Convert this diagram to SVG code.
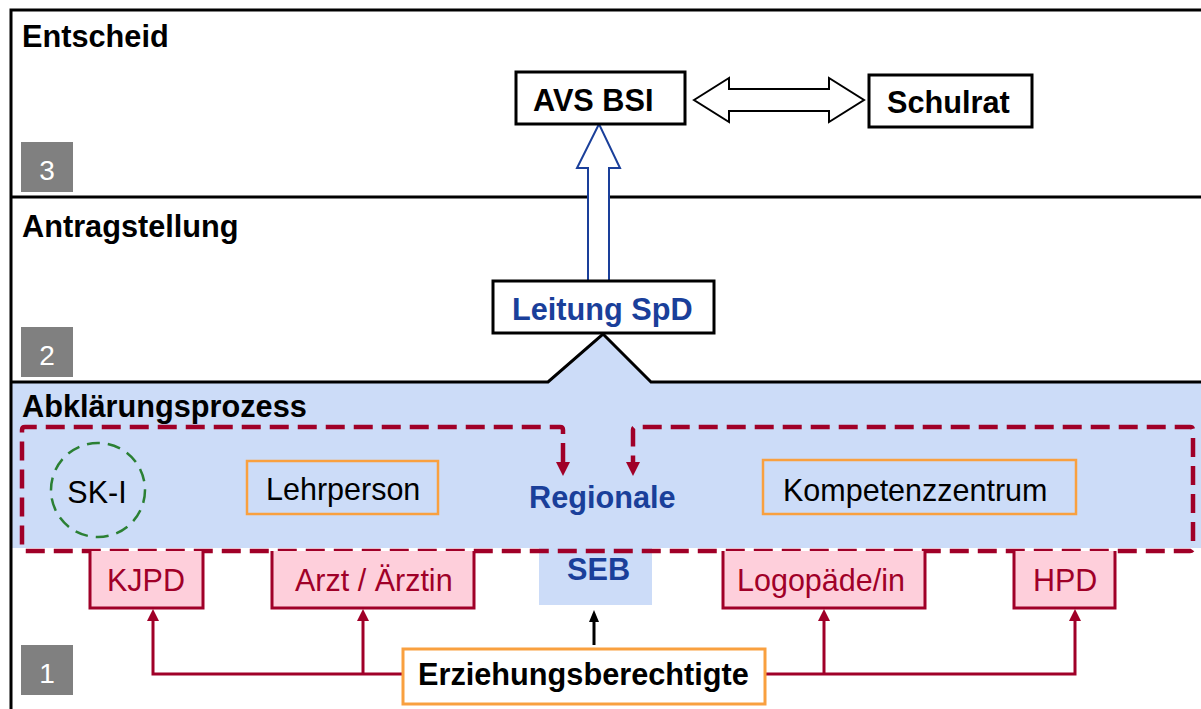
<svg xmlns="http://www.w3.org/2000/svg" width="1201" height="709" viewBox="0 0 1201 709">
<defs>
<style>
text{font-family:"Liberation Sans",Arial,sans-serif;font-size:30.5px}
.b{font-weight:bold;font-size:30.7px}
.blk{fill:#000}
.blue{fill:#1a3f9a}
.red{fill:#a00028}
.badge rect{fill:#808080}
.badge text{fill:#fff;font-size:28px;text-anchor:middle}
.box{fill:#fff;stroke:#000;stroke-width:3}
.obox{fill:#ccdcf8;stroke:#f9a03f;stroke-width:2.5}
.pink{fill:#fecfdb}
.pinkedge{fill:none;stroke:#a00028;stroke-width:3}
.rline{fill:none;stroke:#a00028;stroke-width:3}
.rhead{fill:#a00028}
</style>
</defs>
<rect width="1201" height="709" fill="#fff"/>
<g id="lanes">
<path d="M12,382 L548,382 L603,334 L651,382 L1201,382 L1201,548 L652,548 L652,605 L539,605 L539,548 L12,548 Z" fill="#ccdcf8"/>
<rect x="11" y="10" width="1200" height="710" fill="none" stroke="#000" stroke-width="3"/>
<line x1="11" y1="197" x2="1201" y2="197" stroke="#000" stroke-width="3"/>
<path d="M11,382 L548,382 L603,334 L651,382 L1201,382" fill="none" stroke="#000" stroke-width="3"/>
<text x="22" y="47" class="b blk">Entscheid</text>
<text x="22" y="237" class="b blk">Antragstellung</text>
<text x="22" y="417" class="b blk">Abklärungsprozess</text>
<g class="badge" id="badge3"><rect x="21" y="142" width="52" height="50"/><text x="47" y="180">3</text></g>
<g class="badge" id="badge2"><rect x="21" y="327" width="52" height="50"/><text x="47" y="365">2</text></g>
<g class="badge" id="badge1"><rect x="21" y="645" width="52" height="50"/><text x="47" y="683">1</text></g>
</g>
<g id="connectors">
<path d="M694,100 L729,78 L729,89 L829,89 L829,78 L864,100 L829,122 L829,111 L729,111 L729,122 Z" fill="#fff" stroke="#000" stroke-width="2"/>
<path d="M588,281 L588,168 L577,168 L599,124 L620,168 L609,168 L609,281" fill="#fff" stroke="#1a3f9a" stroke-width="2"/>
<path d="M563,462 L563,430 Q563,427 560,427 L25,427 Q22,427 22,430 L22,548 Q22,551 25,551 L1190,551 Q1193,551 1193,548 L1193,430 Q1193,427 1190,427 L636,427 Q633,427 633,430 L633,462" fill="none" stroke="#a00028" stroke-width="4.5" stroke-dasharray="19,9"/>
<polygon class="rhead" points="556,462 570,462 563,476"/>
<polygon class="rhead" points="626,462 640,462 633,476"/>
<path class="rline" d="M402,674 L153,674 L153,619"/>
<path class="rline" d="M363,674 L363,619"/>
<path class="rline" d="M765,674 L1075,674 L1075,619"/>
<path class="rline" d="M824,674 L824,619"/>
<polygon class="rhead" points="147,621 159,621 153,609"/>
<polygon class="rhead" points="357,621 369,621 363,609"/>
<polygon class="rhead" points="818,621 830,621 824,609"/>
<polygon class="rhead" points="1069,621 1081,621 1075,609"/>
<line x1="594" y1="645" x2="594" y2="620" stroke="#000" stroke-width="3"/>
<polygon points="589,622 599,622 594,610" fill="#000"/>
</g>
<g id="avs"><rect class="box" x="516" y="72" width="169" height="52"/><text x="533" y="111" class="b blk">AVS BSI</text></g>
<g id="schulrat"><rect class="box" x="869" y="75" width="163" height="52"/><text x="887" y="113" class="b blk">Schulrat</text></g>
<g id="leitung"><rect class="box" x="493" y="281" width="221" height="52"/><text x="512" y="320" class="b blue">Leitung SpD</text></g>
<g id="regionale"><text x="529" y="508" class="b blue">Regionale</text><text x="567" y="580" class="b blue">SEB</text></g>
<g id="ski"><circle cx="98" cy="490" r="47" fill="none" stroke="#2b8034" stroke-width="2.5" stroke-dasharray="13,8"/><text x="97" y="503" text-anchor="middle" class="blk">SK-I</text></g>
<g id="lehrperson"><rect class="obox" x="247" y="461" width="191" height="53"/><text x="266" y="500" class="blk">Lehrperson</text></g>
<g id="kompetenz"><rect class="obox" x="763" y="460" width="313" height="54"/><text x="783" y="501" class="blk">Kompetenzzentrum</text></g>
<g id="kjpd"><rect class="pink" x="90" y="551" width="113" height="57"/><path class="pinkedge" d="M90,551 L90,608 L203,608 L203,551"/><text x="107" y="591" class="red">KJPD</text></g>
<g id="arzt"><rect class="pink" x="272" y="551" width="202" height="57"/><path class="pinkedge" d="M272,551 L272,608 L474,608 L474,551"/><text x="295" y="591" class="red">Arzt / Ärztin</text></g>
<g id="logo"><rect class="pink" x="723" y="551" width="202" height="57"/><path class="pinkedge" d="M723,551 L723,608 L925,608 L925,551"/><text x="737" y="591" class="red">Logopäde/in</text></g>
<g id="hpd"><rect class="pink" x="1014" y="551" width="101" height="57"/><path class="pinkedge" d="M1014,551 L1014,608 L1115,608 L1115,551"/><text x="1033" y="591" class="red">HPD</text></g>
<g id="erz"><rect x="403" y="649" width="362" height="55" fill="#fff" stroke="#f9a03f" stroke-width="3"/><text x="418" y="685" class="b blk">Erziehungsberechtigte</text></g>
</svg>
